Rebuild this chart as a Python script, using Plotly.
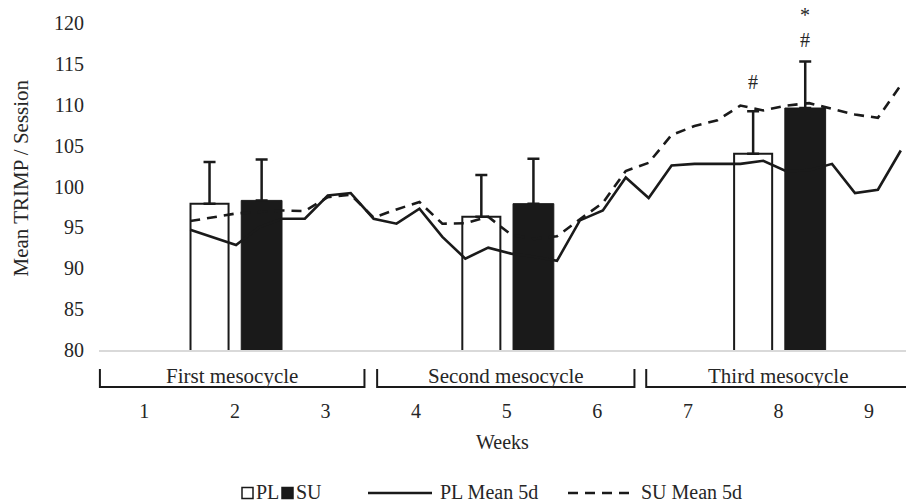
import numpy as np
import plotly.graph_objects as go

# ---- data -------------------------------------------------------------
weeks = [1, 2, 3, 4, 5, 6, 7, 8, 9]
week_labels = ["1", "2", "3", "4", "5", "6", "7", "8", "9"]

# weekly mean TRIMP per session (bars) with SD
bar_weeks = [2, 5, 8]
pl_mean = [97.9, 96.3, 104.0]
pl_sd = [5.1, 5.1, 5.2]
su_mean = [98.3, 97.9, 109.6]
su_sd = [5.0, 5.5, 5.7]

# 5-day rolling means, one value per training session
pl_roll = [94.72, 93.8, 92.85, 95.0, 96.06, 96.06, 98.9, 99.2, 96.06, 95.45,
           97.28, 93.83, 91.18, 92.52, 91.79, 91.4, 90.9, 95.85, 97.07, 101.1,
           98.6, 102.56, 102.77, 102.77, 102.77, 103.15, 101.87, 102.0, 102.77,
           99.2, 99.6, 104.4]
su_roll = [95.77, 96.2, 96.7, 96.9, 97.07, 97.0, 98.7, 99.0, 96.2, 97.2,
           98.1, 95.45, 95.5, 96.3, 94.1, 93.6, 93.9, 96.0, 98.0, 101.9,
           102.9, 106.3, 107.4, 108.1, 109.9, 109.3, 109.9, 110.2, 109.5,
           108.8, 108.4, 112.4]

mesocycles = ["First mesocycle", "Second mesocycle", "Third mesocycle"]
meso_spans = [(0.51, 3.43), (3.57, 6.41), (6.54, 9.45)]

# significance marks above week-8 bars: (group, text, y)
sig_marks = [("PL", "#", 112.8), ("SU", "#", 117.9), ("SU", "*", 120.95)]

# ---- geometry ---------------------------------------------------------
W, H = 906, 503
ML, MR, MT, MB = 99, 0, 23, 153
PW, PH = W - ML - MR, H - MT - MB
X0 = 0.5
X1 = X0 + PW / 90.6          # 90.6 px per week
Y0, Y1 = 80, 120
session_x = 1.507 + 0.253 * np.arange(len(pl_roll))
PL_OFF, SU_OFF = -0.28, 0.295

FONT = "Liberation Serif, Times New Roman, serif"
TXT = "#262626"
INK = "#1a1a1a"
FS = 20


def xp(px):
    return (px - ML) / PW


def yp(py):
    return (H - MB - py) / PH


def wk(w):
    return (w - X0) / (X1 - X0)


def val(v):
    return (v - Y0) / (Y1 - Y0)


fig = go.Figure()

fig.add_trace(go.Bar(
    x=[w + PL_OFF for w in bar_weeks], y=pl_mean, width=0.42, name="PL",
    marker=dict(color="white", line=dict(color=INK, width=2)),
    error_y=dict(type="data", array=pl_sd, arrayminus=[0] * 3, symmetric=False,
                 color=INK, thickness=2.5, width=6),
))
fig.add_trace(go.Bar(
    x=[w + SU_OFF for w in bar_weeks], y=su_mean, width=0.45, name="SU",
    marker=dict(color=INK, line=dict(color=INK, width=1)),
    error_y=dict(type="data", array=su_sd, arrayminus=[0] * 3, symmetric=False,
                 color=INK, thickness=2.5, width=6),
))
fig.add_trace(go.Scatter(
    x=session_x, y=pl_roll, mode="lines", name="PL Mean 5d",
    line=dict(color=INK, width=2.6),
))
fig.add_trace(go.Scatter(
    x=session_x, y=su_roll, mode="lines", name="SU Mean 5d",
    line=dict(color=INK, width=2.6, dash="10px,7px"),
))

annotations = []
for grp, txt, yv in sig_marks:
    off = PL_OFF if grp == "PL" else SU_OFF
    annotations.append(dict(x=wk(8 + off), y=val(yv), xref="paper", yref="paper", text=txt,
                            showarrow=False, xanchor="center", yanchor="middle",
                            font=dict(family=FONT, size=FS, color=TXT)))

# y-axis title
annotations.append(dict(x=xp(20), y=yp(178.5), xref="paper", yref="paper",
                        text="Mean TRIMP / Session", textangle=-90, showarrow=False,
                        xanchor="center", yanchor="middle",
                        font=dict(family=FONT, size=21, color=TXT)))

shapes = []
# mesocycle brackets below the axis
for name, (a, b) in zip(mesocycles, meso_spans):
    y_top, y_bot = yp(369), yp(387)
    shapes.append(dict(type="path", xref="paper", yref="paper",
                       path=f"M {wk(a)},{y_top} L {wk(a)},{y_bot} L {wk(b)},{y_bot} L {wk(b)},{y_top}",
                       line=dict(color=INK, width=2)))
    annotations.append(dict(x=wk((a + b) / 2), y=yp(376), xref="paper", yref="paper",
                            text=name, showarrow=False, xanchor="center", yanchor="middle",
                            font=dict(family=FONT, size=21, color=TXT)))

# legend keys
ly = yp(493)
sq = 11
shapes.append(dict(type="rect", xref="paper", yref="paper",
                   x0=xp(242), x1=xp(242 + sq), y0=yp(493 - sq / 2), y1=yp(493 + sq / 2),
                   line=dict(color=INK, width=1.5), fillcolor="white"))
shapes.append(dict(type="rect", xref="paper", yref="paper",
                   x0=xp(282), x1=xp(282 + sq), y0=yp(493 - sq / 2), y1=yp(493 + sq / 2),
                   line=dict(color=INK, width=1.5), fillcolor=INK))
shapes.append(dict(type="line", xref="paper", yref="paper",
                   x0=xp(368), x1=xp(432), y0=ly, y1=ly, line=dict(color=INK, width=2.5)))
shapes.append(dict(type="line", xref="paper", yref="paper",
                   x0=xp(568), x1=xp(630), y0=ly, y1=ly,
                   line=dict(color=INK, width=2.5, dash="10px,7px")))
for txt, px in [("PL", 254), ("SU", 294), ("PL Mean 5d", 438), ("SU Mean 5d", 639)]:
    annotations.append(dict(x=xp(px), y=yp(492), xref="paper", yref="paper", text=txt,
                            showarrow=False, xanchor="left", yanchor="middle",
                            font=dict(family=FONT, size=FS, color=TXT)))

fig.update_layout(
    width=W, height=H,
    margin=dict(l=ML, r=MR, t=MT, b=MB, pad=0),
    paper_bgcolor="white", plot_bgcolor="white",
    barmode="overlay", showlegend=False,
    font=dict(family=FONT, size=FS, color=TXT),
    xaxis=dict(range=[X0, X1], tickmode="array", tickvals=weeks, ticktext=week_labels,
               showgrid=False, zeroline=False, showline=True, linecolor="#d9d9d9",
               linewidth=2, ticks="", ticklabelstandoff=42,
               title=dict(text="Weeks", standoff=14, font=dict(family=FONT, size=FS, color=TXT))),
    yaxis=dict(range=[Y0, Y1], tickmode="array", tickvals=list(range(80, 121, 5)),
               showgrid=False, zeroline=False, showline=False, ticks="",
               ticklabelstandoff=14),
    annotations=annotations,
    shapes=shapes,
)

fig.write_html("out.html")
